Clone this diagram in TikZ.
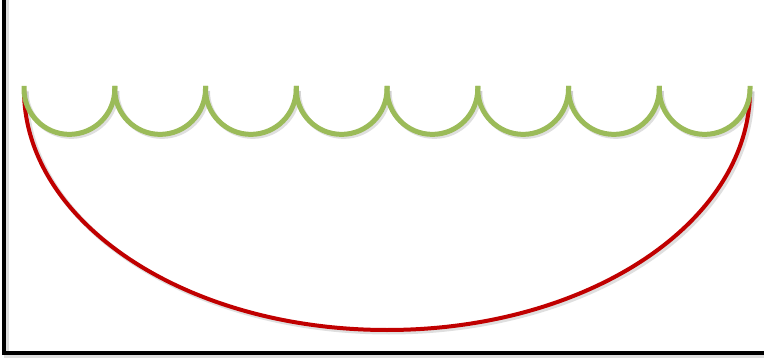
\documentclass[tikz,border=0pt]{standalone}
\definecolor{olivegreen}{HTML}{9BBB59}
\definecolor{darkred}{HTML}{C00000}
\tikzset{
  axisline/.style={line width=4.5pt, black, line cap=rect},
  scallop/.style={line width=5pt, olivegreen, line cap=butt},
  bowl/.style={line width=4pt, darkred},
  shade/.style={line width=5pt, black!25, opacity=0.5}
}
\begin{document}
\begin{tikzpicture}[x=1pt,y=-1pt]
  \useasboundingbox (0,0) rectangle (764,361);
  % shadows
  \draw[shade] (26,92) arc[start angle=180, end angle=0, x radius=363, y radius=240];
  \foreach \i in {0,...,7}{
    \draw[shade] ({26+90.75*\i},91) arc[start angle=180, end angle=0, radius=45.375];
  }
  \draw[shade] (6,0) -- (6,355) -- (764,355);
  % axes
  \draw[axisline] (4,-3) -- (4,353) -- (767,353);
  % red bowl
  \draw[bowl] (24,90) arc[start angle=180, end angle=0, x radius=363, y radius=240];
  % green scallops
  \foreach \i in {0,...,7}{
    \draw[scallop] ({24+90.75*\i},86) -- ({24+90.75*\i},89) arc[start angle=180, end angle=0, radius=45.375] -- ++(0,-3);
  }
\end{tikzpicture}
\end{document}
